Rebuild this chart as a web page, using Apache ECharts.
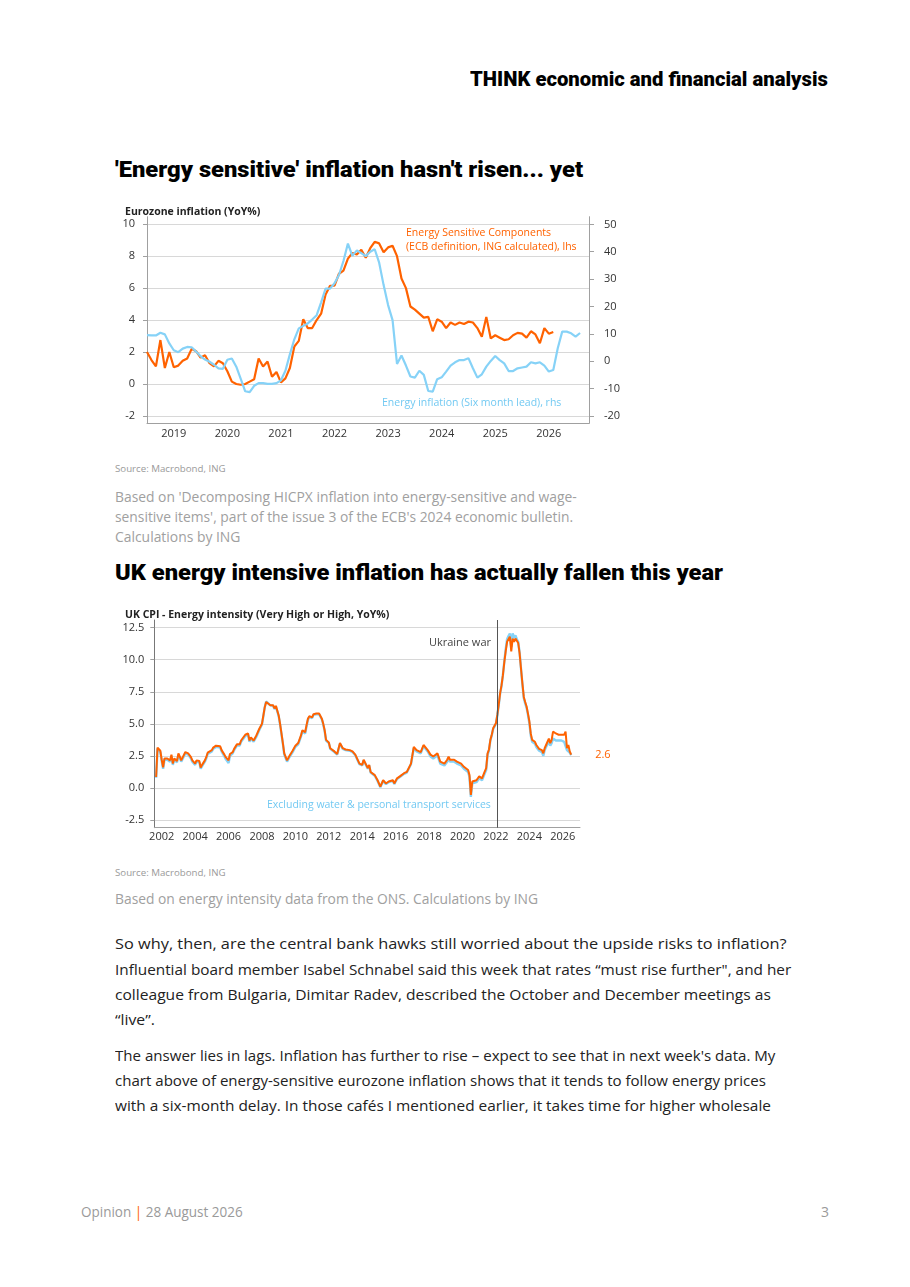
<!DOCTYPE html>
<html>
<head>
<meta charset="utf-8">
<script src="https://cdn.jsdelivr.net/npm/echarts@6/dist/echarts.min.js"></script>
<style>
body { margin: 0; background: #fff; }
#page { position: relative; width: 910px; height: 1287px; overflow: hidden; font-family: 'Open Sans', sans-serif; }
.t { position: absolute; white-space: nowrap; line-height: 1; transform-origin: 0 50%; }
#euChart { position: absolute; left: 110px; top: 195px; width: 530px; height: 250px; }
#ukChart { position: absolute; left: 110px; top: 600px; width: 530px; height: 250px; }
</style>
</head>
<body>
<div id="page">
    <div id="euChart"></div>
    <div id="ukChart"></div>
</div>
<script>
// ---- chart 1: eurozone, monthly from 2018-07
const euStart = [2018, 7]
const euMonthCount = 100
const euOrange = [
    2.0, 1.5, 1.1, 2.75, 1.0, 2.0, 1.05, 1.15, 1.45, 1.6,
    2.2, 2.05, 1.65, 1.8, 1.3, 1.1, 1.45, 1.3, 0.8, 0.15,
    0.0, -0.05, 0.0, 0.15, 0.3, 1.6, 1.1, 1.4, 0.45, 0.75,
    0.1, 0.35, 1.0, 2.35, 2.7, 4.05, 3.5, 3.5, 4.0, 4.4,
    5.6, 6.15, 6.15, 6.9, 7.1, 7.85, 8.2, 8.1, 8.4, 7.9,
    8.5, 8.9, 8.8, 8.25, 8.55, 8.65, 8.0, 6.6, 6.0, 4.85,
    4.65, 4.4, 4.15, 4.2, 3.3, 4.05, 3.9, 3.5, 3.85, 3.7,
    3.85, 3.75, 3.9, 3.85, 3.5, 2.95, 4.2, 2.85, 3.05, 2.9,
    2.75, 2.8, 3.05, 3.2, 3.15, 2.9, 3.3, 3.1, 2.55, 3.5,
    3.15, 3.25,
]
const euBlue = [
    9.5, 9.4, 9.4, 10.4, 9.8, 6.5, 4.0, 3.3, 4.6, 5.2,
    5.1, 3.5, 1.8, 0.6, -0.2, -1.3, -2.6, -2.8, 0.5, 1.0,
    -2.0, -6.5, -11.0, -11.3, -9.0, -8.0, -8.0, -8.3, -8.3, -8.0,
    -7.0, -3.5, 2.5, 8.0, 12.0, 12.9, 13.8, 15.2, 16.8, 21.5,
    26.5, 26.5, 28.5, 31.5, 36.6, 43.0, 38.5, 40.5, 39.5, 38.4,
    40.0, 40.9, 36.0, 27.8, 20.5, 15.0, -1.0, 2.1, -1.6, -5.6,
    -6.0, -3.5, -5.0, -10.9, -11.1, -6.6, -5.9, -3.8, -1.6, -0.4,
    0.4, 0.4, 1.1, -2.6, -6.0, -4.8, -2.0, 0.1, 1.9, 0.4,
    -0.8, -3.6, -3.6, -2.6, -2.3, -2.0, -0.4, -0.8, -0.4, -1.6,
    -3.8, -3.2, 4.7, 10.8, 10.8, 10.2, 9.0, 10.3,
]
const euLeftTicks = [-2, 0, 2, 4, 6, 8, 10]
const euRightTicks = [-20, -10, 0, 10, 20, 30, 40, 50]

// ---- chart 2: UK energy intensive CPI
const ukMonths = [
    '2001-09', '2001-10', '2001-11', '2001-12',
    '2002-01', '2002-02', '2002-03', '2002-04', '2002-05', '2002-07', '2002-08', '2002-09', '2002-10', '2002-12',
    '2003-01', '2003-02', '2003-03', '2003-04', '2003-06', '2003-07', '2003-08', '2003-09', '2003-10', '2003-11',
    '2004-01', '2004-02', '2004-03', '2004-04', '2004-05', '2004-06', '2004-08', '2004-09', '2004-10', '2004-11',
    '2005-01', '2005-02', '2005-03', '2005-04', '2005-05', '2005-07', '2005-08', '2005-09', '2005-10', '2005-11',
    '2006-01', '2006-02', '2006-03', '2006-04', '2006-05', '2006-07', '2006-08', '2006-09', '2006-10', '2006-11',
    '2007-01', '2007-02', '2007-03', '2007-04', '2007-05', '2007-07', '2007-08', '2007-09', '2007-10', '2007-11',
    '2008-01', '2008-02', '2008-03', '2008-04', '2008-05', '2008-07', '2008-08', '2008-09', '2008-10', '2008-11',
    '2009-01', '2009-02', '2009-03', '2009-04', '2009-05', '2009-07', '2009-08', '2009-09', '2009-10', '2009-11',
    '2010-01', '2010-02', '2010-03', '2010-04', '2010-05', '2010-06', '2010-07', '2010-08', '2010-09', '2010-10', '2010-11', '2010-12',
    '2011-01', '2011-02', '2011-03', '2011-04', '2011-05', '2011-06', '2011-07', '2011-08', '2011-09', '2011-10', '2011-11',
    '2012-01', '2012-02', '2012-05', '2012-07', '2012-09', '2012-11',
    '2013-01', '2013-04', '2013-06', '2013-07', '2013-08', '2013-11',
    '2014-01', '2014-02', '2014-05', '2014-06', '2014-07', '2014-10', '2014-12',
    '2015-02', '2015-04', '2015-06', '2015-08', '2015-11', '2015-12',
    '2016-02', '2016-04', '2016-07', '2016-09', '2016-12',
    '2017-02', '2017-04', '2017-07', '2017-09', '2017-12',
    '2018-02', '2018-04', '2018-07', '2018-09', '2018-12',
    '2019-02', '2019-03', '2019-04', '2019-07', '2019-09', '2019-12',
    '2020-02', '2020-05', '2020-06', '2020-07', '2020-08', '2020-11',
    '2021-01', '2021-03', '2021-05', '2021-06', '2021-07', '2021-08', '2021-09', '2021-10', '2021-11', '2021-12',
    '2022-01', '2022-02', '2022-03', '2022-04', '2022-05', '2022-06', '2022-07', '2022-08', '2022-09', '2022-10', '2022-11', '2022-12',
    '2023-01', '2023-02', '2023-03', '2023-04', '2023-05', '2023-06', '2023-07', '2023-08', '2023-09', '2023-10', '2023-11', '2023-12',
    '2024-01', '2024-02', '2024-03', '2024-04', '2024-05', '2024-06', '2024-07', '2024-08', '2024-09', '2024-10', '2024-11', '2024-12',
    '2025-01', '2025-02', '2025-03', '2025-04', '2025-05', '2025-06', '2025-07', '2025-08', '2025-09', '2025-10', '2025-11', '2025-12',
    '2026-01', '2026-02', '2026-03', '2026-04', '2026-05', '2026-06', '2026-07',
]
const ukOrange = [
    0.85, 3.15, 3.2, 2.9,
    2.2, 1.6, 2.3, 2.15, 2.3, 2.15, 2.6, 1.9, 2.3, 2.1,
    2.7, 2.45, 2.15, 2.3, 2.8, 2.95, 2.7, 2.55, 2.4, 2.15,
    1.9, 2.15, 2.15, 2.1, 1.6, 1.8, 2.15, 2.4, 2.75, 2.85,
    2.95, 3.15, 3.25, 3.3, 3.3, 3.25, 2.95, 2.8, 2.6, 2.4,
    2.15, 2.65, 2.5, 2.8, 3.05, 3.4, 3.5, 3.4, 3.7, 3.85,
    4.15, 4.25, 4.25, 3.7, 3.95, 3.7, 3.9, 4.1, 4.25, 4.6,
    5.0, 5.65, 6.3, 6.7, 6.6, 6.45, 6.4, 6.45, 6.2, 6.4,
    5.65, 5.0, 4.25, 3.5, 2.7, 2.15, 2.3, 2.55, 2.4, 2.9,
    3.3, 3.2, 3.5, 3.8, 4.1, 4.5, 4.4, 4.35, 4.9, 5.4, 5.6, 5.7,
    5.5, 5.75, 5.6, 5.8, 5.7, 5.8, 5.95, 5.4, 5.0, 4.5, 3.75,
    3.55, 3.1, 2.85, 2.65, 3.5, 3.1,
    3.0, 2.95, 2.85, 3.0, 2.6, 1.9,
    1.8, 2.2, 1.55, 1.8, 1.25, 1.0, 0.6,
    0.1, 0.6, 0.35, 0.5, 0.6, 0.35,
    0.75, 0.9, 1.15, 1.25, 1.9,
    3.2, 2.95, 2.8, 3.35, 2.95,
    2.6, 2.45, 2.7, 2.05, 1.9,
    2.2, 2.45, 2.2, 2.2, 2.05, 1.9,
    1.65, 1.4, 1.0, -0.55, 0.5, 0.6,
    0.9, 0.75, 1.3, 1.55, 2.7, 3.0, 3.75, 4.15, 4.65, 4.7,
    5.05, 5.7, 6.5, 7.4, 8.0, 8.8, 9.8, 10.65, 11.4, 11.55, 11.8, 10.65,
    11.65, 11.4, 11.65, 11.5, 11.3, 10.5, 9.3, 8.15, 7.1, 6.7, 6.35, 5.8,
    5.2, 4.25, 3.75, 3.7, 3.6, 3.35, 3.2, 3.05, 3.2, 2.95, 2.7, 3.1,
    3.35, 3.2, 3.85, 3.5, 3.75, 4.4, 4.25, 4.25, 4.15, 4.15, 4.2, 4.15,
    4.25, 4.15, 4.4, 3.1, 3.35, 2.85, 2.6,
]
const ukBlue = [
    0.8, 3.05, 3.1, 2.8,
    2.1, 1.5, 2.2, 2.05, 2.2, 2.05, 2.5, 1.8, 2.2, 2.0,
    2.6, 2.35, 2.05, 2.2, 2.7, 2.85, 2.6, 2.45, 2.3, 2.05,
    1.8, 2.05, 2.05, 2.0, 1.5, 1.7, 2.05, 2.3, 2.65, 2.75,
    2.85, 3.05, 3.15, 3.2, 3.2, 3.15, 2.85, 2.7, 2.45, 2.25,
    1.95, 2.5, 2.35, 2.7, 2.95, 3.3, 3.4, 3.3, 3.6, 3.75,
    4.05, 4.15, 4.15, 3.6, 3.85, 3.6, 3.8, 4.0, 4.15, 4.5,
    4.95, 5.6, 6.3, 6.75, 6.6, 6.45, 6.35, 6.4, 6.15, 6.35,
    5.6, 4.95, 4.2, 3.45, 2.6, 2.05, 2.2, 2.45, 2.3, 2.8,
    3.2, 3.1, 3.4, 3.7, 4.0, 4.4, 4.3, 4.25, 4.8, 5.3, 5.55, 5.65,
    5.45, 5.7, 5.55, 5.75, 5.65, 5.75, 5.9, 5.35, 4.95, 4.45, 3.7,
    3.5, 3.05, 2.8, 2.6, 3.45, 3.05,
    2.95, 2.9, 2.8, 2.95, 2.55, 1.85,
    1.75, 2.15, 1.5, 1.75, 1.2, 0.95, 0.55,
    0.05, 0.55, 0.3, 0.45, 0.55, 0.3,
    0.7, 0.85, 1.1, 1.2, 1.85,
    3.1, 2.85, 2.7, 3.25, 2.85,
    2.45, 2.3, 2.55, 1.9, 1.75,
    2.05, 2.3, 2.05, 2.05, 1.9, 1.75,
    1.5, 1.25, 0.85, -0.7, 0.35, 0.45,
    0.75, 0.6, 1.15, 1.4, 2.6, 2.9, 3.7, 4.1, 4.6, 4.65,
    5.0, 5.65, 6.45, 7.35, 7.95, 8.8, 9.85, 10.8, 11.6, 11.85, 12.05, 11.0,
    12.05, 11.7, 11.9, 11.6, 11.4, 10.55, 9.3, 8.1, 7.0, 6.6, 6.25, 5.7,
    5.05, 4.1, 3.6, 3.55, 3.45, 3.2, 3.05, 2.9, 3.05, 2.8, 2.5, 2.95,
    3.2, 3.05, 3.6, 3.3, 3.5, 3.85, 3.8, 3.7, 3.65, 3.7, 3.75, 3.7,
    3.65, 3.6, 3.7, 2.95, 3.1, 2.75, 2.55,
]
const ukYearTicks = [2002, 2004, 2006, 2008, 2010, 2012, 2014, 2016, 2018, 2020, 2022, 2024, 2026]
const ukValueTicks = [-2.5, 0, 2.5, 5, 7.5, 10, 12.5]
const ukWarMonth = '2022-02'

const ORANGE = '#ff6200'
const BLUE = '#86d2f7'
const GRID = '#d8d8d8'
const AXIS = '#a0a0a0'
const LABEL = '#333'

// month labels for the eurozone axis
const euMonths = []
for (let i = 0; i < euMonthCount; i += 1) {
    const n = euStart[1] - 1 + i
    euMonths.push(`${euStart[0] + Math.floor(n / 12)}-${String((n % 12) + 1).padStart(2, '0')}`)
}
const toYear = (s) => Number(s.slice(0, 4)) + (Number(s.slice(5, 7)) - 1) / 12

// ---- page text
const page = document.getElementById('page')
const texts = [
    // [html, left, centre y, size, colour, weight, target width, family]
    ['THINK economic and financial analysis', 470, 79, 21, '#000', 900, 358, 'Roboto'],
    ["'Energy sensitive' inflation hasn't risen... yet", 115, 170, 22, '#000', 900, 468, 'Roboto'],
    ['Source: Macrobond, ING', 115, 468, 9, '#9a9a9a', 400, 111],
    ["Based on 'Decomposing HICPX inflation into energy-sensitive and wage-", 115, 497, 14, '#a0a0a0', 400, 462],
    ["sensitive items', part of the issue 3 of the ECB's 2024 economic bulletin.", 115, 517, 14, '#a0a0a0', 400, 458],
    ['Calculations by ING', 115, 537, 14, '#a0a0a0', 400, 125],
    ['UK energy intensive inflation has actually fallen this year', 115, 573, 22, '#000', 900, 608, 'Roboto'],
    ['Source: Macrobond, ING', 115, 872, 9, '#9a9a9a', 400, 111],
    ['Based on energy intensity data from the ONS. Calculations by ING', 115, 899, 14, '#a0a0a0', 400, 423],
    ['So why, then, are the central bank hawks still worried about the upside risks to inflation?', 115, 943, 15, '#222', 400, 672],
    ['Influential board member Isabel Schnabel said this week that rates “must rise further", and her', 115, 969, 15, '#222', 400, 676],
    ['colleague from Bulgaria, Dimitar Radev, described the October and December meetings as', 115, 994, 15, '#222', 400, 656],
    ['“live”.', 115, 1019, 15, '#222', 400, 40],
    ["The answer lies in lags. Inflation has further to rise – expect to see that in next week's data. My", 115, 1055, 15, '#222', 400, 660],
    ['chart above of energy-sensitive eurozone inflation shows that it tends to follow energy prices', 115, 1080, 15, '#222', 400, 651],
    ['with a six-month delay. In those cafés I mentioned earlier, it takes time for higher wholesale', 115, 1105, 15, '#222', 400, 656],
    ['Opinion <span style="color:#ff6200">|</span> 28 August 2026', 81, 1212, 14, '#9a9a9a', 400, 162],
    ['3', 821, 1212, 14, '#9a9a9a', 400, 0],
]
texts.forEach(([html, left, cy, size, color, weight, width, family]) => {
    const el = document.createElement('div')
    el.className = 't'
    el.innerHTML = html
    el.style.left = `${left}px`
    el.style.top = `${cy - size / 2}px`
    el.style.fontSize = `${size}px`
    el.style.color = color
    el.style.fontWeight = weight
    if (family) el.style.fontFamily = `'${family}', sans-serif`
    page.appendChild(el)
    if (width) {
        el.style.transform = `scaleX(${width / el.scrollWidth})`
    }
})

// ---- chart 1
const euChart = echarts.init(document.getElementById('euChart'))
euChart.setOption({
    animation: false,
    textStyle: { fontFamily: 'Open Sans' },
    title: {
        text: 'Eurozone inflation (YoY%)',
        left: 10,
        top: 7,
        textStyle: { fontSize: 10.5, fontWeight: 'bold', color: '#222' },
    },
    grid: { left: 37, right: 51, top: 21.7, height: 206.6 },
    xAxis: {
        type: 'category',
        data: euMonths,
        boundaryGap: false,
        axisLine: { onZero: false, lineStyle: { color: AXIS } },
        axisTick: { show: false },
        axisLabel: {
            interval: (i, v) => v.endsWith('-01'),
            formatter: (v) => v.slice(0, 4),
            color: LABEL,
            fontSize: 11,
            margin: 5,
        },
    },
    yAxis: [
        {
            type: 'value',
            min: -2.46,
            max: 10.47,
            axisLine: { show: true, onZero: false, lineStyle: { color: AXIS } },
            axisTick: { show: true, customValues: euLeftTicks, length: 4, lineStyle: { color: AXIS } },
            axisLabel: { customValues: euLeftTicks, color: LABEL, fontSize: 11, margin: 12 },
            splitLine: { show: true, lineStyle: { color: GRID } },
        },
        {
            type: 'value',
            min: -22.7,
            max: 52.8,
            axisLine: { show: true, onZero: false, lineStyle: { color: AXIS } },
            axisTick: { show: true, customValues: euRightTicks, length: 5, lineStyle: { color: AXIS } },
            axisLabel: { customValues: euRightTicks, color: LABEL, fontSize: 11, margin: 15 },
            splitLine: { show: false },
        },
    ],
    series: [
        {
            name: 'Energy Sensitive Components',
            type: 'line',
            yAxisIndex: 0,
            data: euOrange,
            showSymbol: false,
            silent: true,
            lineStyle: { color: ORANGE, width: 2.2 },
        },
        {
            name: 'Energy inflation',
            type: 'line',
            yAxisIndex: 1,
            data: euBlue,
            showSymbol: false,
            silent: true,
            lineStyle: { color: BLUE, width: 2.2 },
        },
    ],
    graphic: [
        { type: 'text', left: 296, top: 33, style: { text: 'Energy Sensitive Components', fill: ORANGE, fontSize: 10.5, fontFamily: 'Open Sans' } },
        { type: 'text', left: 296, top: 47, style: { text: '(ECB definition, ING calculated), lhs', fill: ORANGE, fontSize: 10.5, fontFamily: 'Open Sans' } },
        { type: 'text', left: 272, top: 203, style: { text: 'Energy inflation (Six month lead), rhs', fill: '#72c9f2', fontSize: 10.5, fontFamily: 'Open Sans' } },
    ],
})

// ---- chart 2
const ukChart = echarts.init(document.getElementById('ukChart'))
ukChart.setOption({
    animation: false,
    textStyle: { fontFamily: 'Open Sans' },
    title: {
        text: 'UK CPI - Energy intensity (Very High or High, YoY%)',
        left: 10,
        top: 5,
        textStyle: { fontSize: 10.5, fontWeight: 'bold', color: '#222' },
    },
    grid: { left: 44.3, right: 60, top: 20, height: 207.7 },
    xAxis: {
        type: 'value',
        min: 2001.557,
        max: 2027.03,
        axisLine: { show: true, onZero: false, lineStyle: { color: AXIS } },
        axisTick: { show: false },
        splitLine: { show: false },
        axisLabel: { customValues: ukYearTicks, formatter: (v) => String(v), color: LABEL, fontSize: 11, margin: 4 },
    },
    yAxis: {
        type: 'value',
        min: -3.1,
        max: 13.1,
        axisLine: { show: true, onZero: false, lineStyle: { color: '#777' } },
        axisTick: { show: true, customValues: ukValueTicks, length: 4, lineStyle: { color: AXIS } },
        axisLabel: { customValues: ukValueTicks, formatter: (v) => v.toFixed(1), color: LABEL, fontSize: 11, margin: 10 },
        splitLine: { show: true, lineStyle: { color: GRID } },
    },
    series: [
        {
            name: 'Excluding water & personal transport services',
            type: 'line',
            data: ukMonths.map((m, i) => [toYear(m), ukBlue[i]]),
            showSymbol: false,
            silent: true,
            lineStyle: { color: BLUE, width: 2.4 },
        },
        {
            name: 'Energy intensity',
            type: 'line',
            data: ukMonths.map((m, i) => [toYear(m), ukOrange[i]]),
            showSymbol: false,
            silent: true,
            lineStyle: { color: ORANGE, width: 2 },
            endLabel: {
                show: true,
                formatter: (p) => p.value[1].toFixed(1),
                color: ORANGE,
                fontSize: 11,
                distance: 24,
            },
            markLine: {
                silent: true,
                symbol: 'none',
                label: { show: false },
                lineStyle: { color: '#555', width: 1, type: 'solid' },
                data: [{ xAxis: toYear(ukWarMonth) }],
            },
        },
    ],
    graphic: [
        { type: 'text', right: 149, top: 37, style: { text: 'Ukraine war', fill: '#444', fontSize: 11, fontFamily: 'Open Sans' } },
        { type: 'text', left: 157, top: 200, style: { text: 'Excluding water & personal transport services', fill: '#72c9f2', fontSize: 10.5, fontFamily: 'Open Sans' } },
    ],
})
</script>
</body>
</html>
